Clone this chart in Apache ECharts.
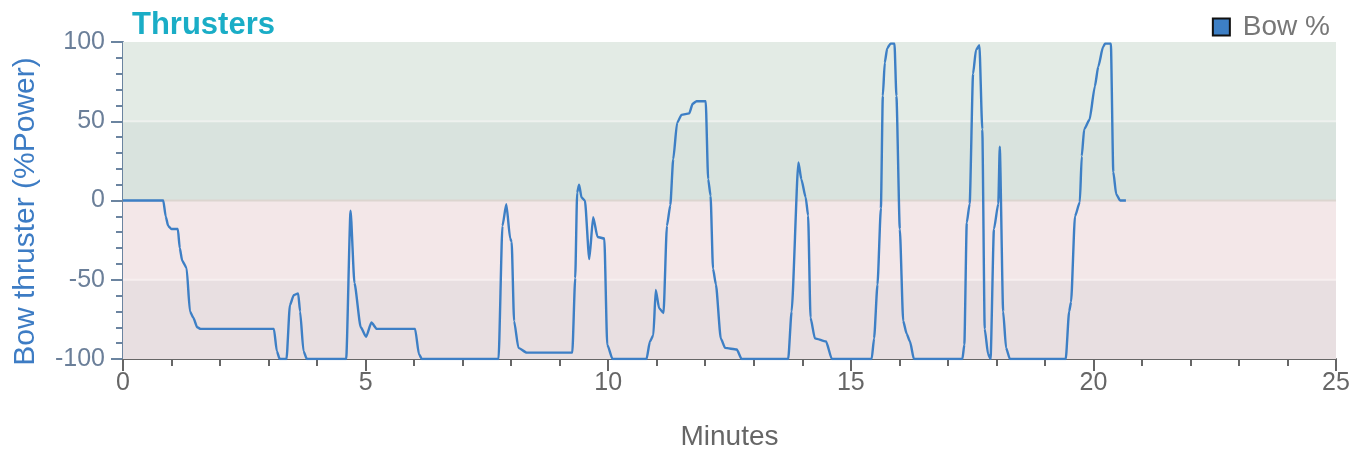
<!DOCTYPE html>
<html>
<head>
<meta charset="utf-8">
<title>Thrusters</title>
<script src="https://cdn.jsdelivr.net/npm/echarts@6/dist/echarts.min.js"></script>
<style>
  html, body { margin: 0; padding: 0; background: #fff; }
  #chart { width: 1362px; height: 456px; }
</style>
</head>
<body>
<div id="chart"></div>
<script>
// time in minutes, bow thruster in %power
const minutes = [
  0, 0.83, 0.88, 0.93, 1.0, 1.13, 1.17, 1.22, 1.31, 1.38, 1.45, 1.53, 1.6, 3.11, 3.17, 3.23,
  3.37, 3.44, 3.52, 3.61, 3.65, 3.72, 3.79, 4.6, 4.69, 4.77, 4.9, 5.01, 5.12, 5.23, 6.02, 6.1,
  6.16, 7.74, 7.82, 7.9, 7.98, 8.01, 8.06, 8.15, 8.32, 9.26, 9.32, 9.36, 9.4, 9.45, 9.52, 9.61,
  9.69, 9.78, 9.92, 9.98, 10.09, 10.79, 10.86, 10.93, 10.98, 11.05, 11.14, 11.21, 11.28, 11.34,
  11.42, 11.51, 11.67, 11.74, 11.82, 12.01, 12.06, 12.11, 12.16, 12.22, 12.32, 12.41, 12.65,
  12.75, 13.71, 13.78, 13.92, 13.98, 14.07, 14.12, 14.17, 14.26, 14.49, 14.61, 15.43, 15.48,
  15.55, 15.62, 15.66, 15.7, 15.75, 15.82, 15.9, 15.94, 16.01, 16.08, 16.15, 16.22, 16.3,
  17.3, 17.34, 17.39, 17.45, 17.52, 17.58, 17.65, 17.71, 17.76, 17.83, 17.88, 17.95, 18.04,
  18.07, 18.14, 18.2, 18.28, 19.43, 19.5, 19.54, 19.62, 19.72, 19.76, 19.81, 19.92, 20.03,
  20.1, 20.2, 20.24, 20.36, 20.41, 20.47, 20.55, 20.67
];
const bowPct = [
  0, 0, -10, -16, -18, -18, -30, -38, -42.5, -70, -74, -80, -81, -81, -95, -100,
  -100, -66, -59.7, -58.6, -70, -95, -100, -100, -6.4, -52, -80, -86, -77, -81, -81, -97,
  -100, -100, -16, -2.4, -24, -26, -76, -93, -96, -96, -49, 5, 10, 2, 0, -37,
  -10.5, -23, -24, -91, -100, -100, -89, -85, -56.5, -68, -71, -16, -3, 26,
  49, 54, 55, 61, 62.6, 62.6, 13.5, 3, -43, -53, -87, -93, -94,
  -100, -100, -70, 24, 13.5, 2, -9.5, -74, -87, -89, -100, -100, -87,
  -53, -5, 66, 87, 96, 99, 99, 66, -18, -76, -84, -89, -100,
  -100, -91, -14, -2, 80, 95, 98, 45, -81, -97, -100, -18, -2,
  34, -70, -93, -100, -100, -70, -64, -10, -1, 28, 45, 51, 72,
  84.5, 97, 99, 99, 18, 4, 0, 0
];
const xTicks = [0, 5, 10, 15, 20, 25];
const yTicks = [-100, -50, 0, 50, 100];

const chart = echarts.init(document.getElementById('chart'));
const FONT = 'Liberation Sans, Arial, sans-serif';

// background bands behind the line, plus thin separators
const bands = [
  { from: 50, to: 100, color: '#e3ebe5' },
  { from: 0, to: 50, color: '#d9e3de' },
  { from: -50, to: 0, color: '#f3e7e8' },
  { from: -100, to: -50, color: '#e8dfe1' },
  { from: 49.4, to: 50.6, color: '#eef1ee' },
  { from: -0.6, to: 0.6, color: '#dcd5cf' },
  { from: -50.6, to: -49.4, color: '#f7efef' }
];

const option = {
  animation: false,
  title: {
    text: 'Thrusters',
    left: 127,
    top: 5,
    textStyle: { color: '#1aadc6', fontSize: 31, fontWeight: 'bold', fontFamily: FONT }
  },
  legend: {
    right: 27,
    top: 8,
    icon: 'rect',
    itemWidth: 17,
    itemHeight: 17,
    itemGap: 8,
    itemStyle: { borderColor: '#111', borderWidth: 2 },
    textStyle: { color: '#777', fontSize: 28, fontFamily: FONT, padding: [0, 0, 0, 8] },
    data: ['Bow %']
  },
  grid: { left: 123, right: 26, top: 42, bottom: 95 },
  xAxis: {
    type: 'value',
    min: xTicks[0],
    max: xTicks[xTicks.length - 1],
    interval: 5,
    name: 'Minutes',
    nameLocation: 'middle',
    nameGap: 64,
    nameTextStyle: { color: '#666', fontSize: 28, fontFamily: FONT },
    axisLine: { onZero: false, lineStyle: { color: '#666', width: 2 } },
    axisTick: { length: 12, lineStyle: { color: '#666', width: 2 } },
    minorTick: { show: true, splitNumber: 5, length: 7, lineStyle: { color: '#666', width: 2 } },
    axisLabel: { color: '#666', fontSize: 25, margin: 12, fontFamily: FONT },
    splitLine: { show: false }
  },
  yAxis: {
    type: 'value',
    min: yTicks[0],
    max: yTicks[yTicks.length - 1],
    interval: 50,
    name: 'Bow thruster (%Power)',
    nameLocation: 'middle',
    nameGap: 82,
    nameTextStyle: { color: '#3d7cc4', fontSize: 30, fontFamily: FONT, padding: [0, 22, 0, 0] },
    axisLine: { show: true, onZero: false, lineStyle: { color: '#6b84a0', width: 2 } },
    axisTick: { length: 12, lineStyle: { color: '#6b84a0', width: 2 } },
    minorTick: { show: true, splitNumber: 5, length: 7, lineStyle: { color: '#6b84a0', width: 2 } },
    axisLabel: { color: '#6b7f99', fontSize: 25, margin: 18, fontFamily: FONT },
    splitLine: { show: false }
  },
  series: [{
    name: 'Bow %',
    type: 'line',
    data: minutes.map((m, i) => [m, bowPct[i]]),
    showSymbol: false,
    smooth: 0.2,
    smoothMonotone: 'x',
    color: '#3d7fc5',
    lineStyle: { color: '#3d7fc5', width: 2.4 },
    itemStyle: { color: '#3d7fc5' },
    z: 5,
    markArea: {
      silent: true,
      z: 1,
      data: bands.map(b => [
        { yAxis: b.from, itemStyle: { color: b.color } },
        { yAxis: b.to }
      ])
    }
  }]
};

chart.setOption(option);
</script>
</body>
</html>
